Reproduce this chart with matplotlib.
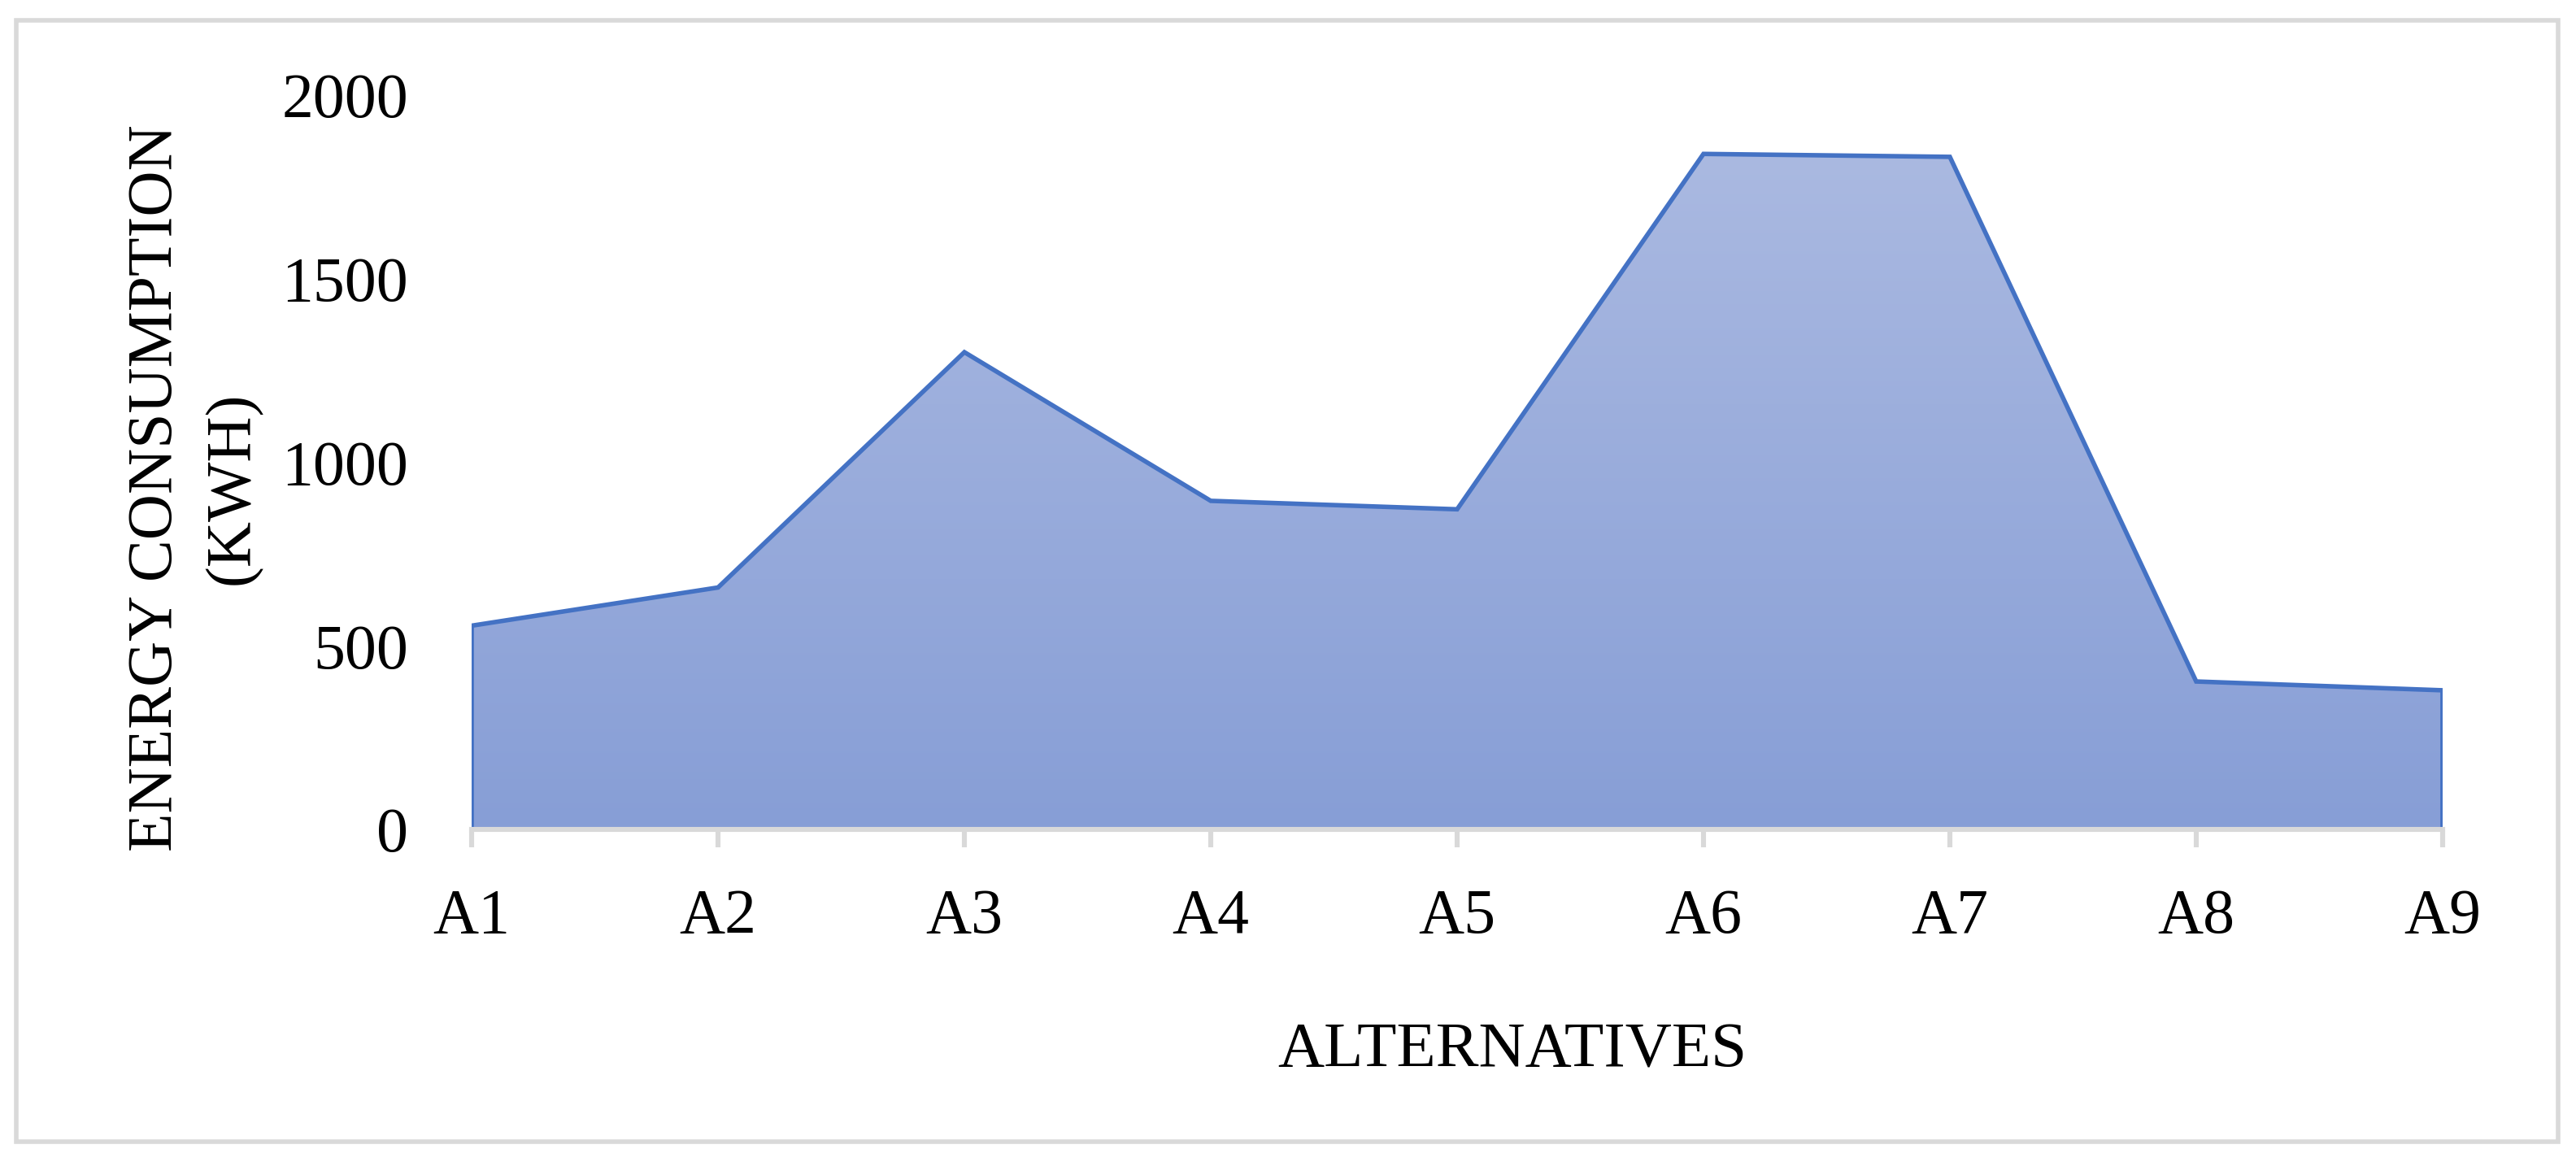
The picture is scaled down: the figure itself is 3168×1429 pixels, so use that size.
import numpy as np
import matplotlib
matplotlib.use("Agg")
import matplotlib.pyplot as plt
from matplotlib.colors import LinearSegmentedColormap
from matplotlib.patches import Rectangle

# ---------------------------------------------------------------------------
# Data
# ---------------------------------------------------------------------------
alternatives = ["A1", "A2", "A3", "A4", "A5", "A6", "A7", "A8", "A9"]
energy_kwh = [555, 659, 1300, 895, 872, 1840, 1832, 403, 379]
y_ticks = [0, 500, 1000, 1500, 2000]

plt.rcParams["font.family"] = ["Liberation Serif", "DejaVu Serif"]

x = np.arange(len(alternatives))
y = np.array(energy_kwh, dtype=float)

fig = plt.figure(figsize=(15.84, 7.145), dpi=200)
ax = fig.add_axes([0.1831, 0.2862, 0.9482 - 0.1831, 0.9181 - 0.2862])

# -- gradient area -----------------------------------------------------------
area = ax.fill_between(x, 0, y, facecolor="none", edgecolor="none")
grad = LinearSegmentedColormap.from_list("g", ["#879ed6", "#aab9e1"])
img = ax.imshow(np.linspace(0, 1, 256).reshape(-1, 1), cmap=grad,
                origin="lower", aspect="auto",
                extent=[x[0], x[-1], 0, y.max()], zorder=1)
img.set_clip_path(area.get_paths()[0], transform=ax.transData)

# outline of the area
ax.plot(np.r_[x[0], x, x[-1]], np.r_[0, y, 0], color="#4472c4",
        lw=2.0, solid_joinstyle="miter", zorder=2)

# -- axes --------------------------------------------------------------------
ax.set_xlim(x[0], x[-1])
ax.set_ylim(0, 2000)
ax.set_xticks(x)
ax.set_xticklabels(alternatives)
ax.set_yticks(y_ticks)
ax.set_yticklabels([str(t) for t in y_ticks])

for s in ["top", "right", "left"]:
    ax.spines[s].set_visible(False)
ax.spines["bottom"].set_color("#d9d9d9")
ax.spines["bottom"].set_linewidth(2.2)
ax.spines["bottom"].set_zorder(3)
ax.spines["bottom"].set_clip_on(False)

ax.tick_params(axis="x", length=8, width=2.2, color="#d9d9d9",
               labelsize=28, pad=18)
ax.tick_params(axis="y", length=0, labelsize=28, pad=28)
ax.set_facecolor("none")

fig.text(0.0755, 0.580, "ENERGY CONSUMPTION\n(KWH)", rotation=90,
         ha="center", va="center", multialignment="center",
         fontsize=28, linespacing=1.42)
fig.text(0.587, 0.0952, "ALTERNATIVES", ha="center", va="center",
         fontsize=28.5)

# chart border
fig.patches.append(Rectangle((20 / 3168, 25 / 1429), 3126 / 3168, 1379 / 1429,
                             transform=fig.transFigure, fill=False,
                             edgecolor="#d9d9d9", lw=2.0))

fig.savefig("out.png", dpi=200)
